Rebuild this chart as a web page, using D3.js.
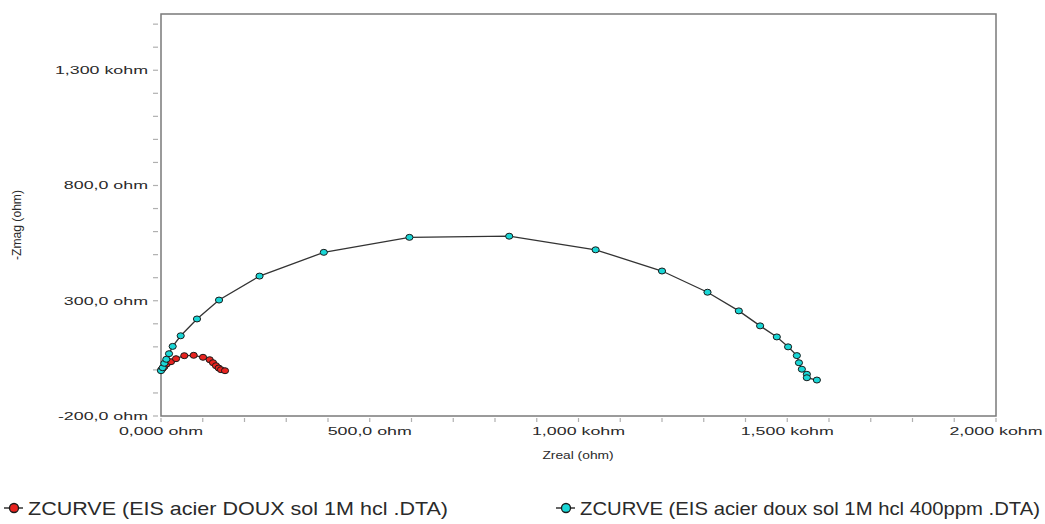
<!DOCTYPE html>
<html><head><meta charset="utf-8">
<script src="https://cdn.jsdelivr.net/npm/d3@7"></script>
<style>body{margin:0;background:#fff}svg{display:block}</style>
</head><body>
<svg id="c" width="1045" height="524"></svg>
<script>
// Data (ohm)
const redZreal = [0.5, 4, 8, 13.7, 24, 36, 55.8, 78.3, 100.6, 116.6, 124.6, 131.7, 138.2, 143.7, 153.3];
const redZimag = [0, 6, 14, 25.6, 35.6, 48.6, 61.6, 63.3, 54.7, 44.3, 31.2, 18.2, 8.2, 0.9, -3.5];
const cyanZreal = [0, 4, 7.9, 12.7, 19.2, 28, 47.2, 86.2, 139, 236, 390, 595, 834, 1041, 1200, 1309, 1384, 1435, 1475, 1502, 1523, 1528, 1535, 1547, 1547, 1571];
const cyanZimag = [-3.5, 9.5, 28.6, 46, 70.3, 102, 148, 221, 303, 407, 510, 575, 580, 521, 429, 337, 256, 191, 143, 100, 62, 31, 3, -19, -34, -44];
const xTickValues = [0, 500, 1000, 1500, 2000];
const xTickLabels = ["0,000 ohm", "500,0 ohm", "1,000 kohm", "1,500 kohm", "2,000 kohm"];
const yTickValues = [-200, 300, 800, 1300];
const yTickLabels = ["-200,0 ohm", "300,0 ohm", "800,0 ohm", "1,300 kohm"];
const seriesNames = ["ZCURVE (EIS acier DOUX sol 1M hcl .DTA)", "ZCURVE (EIS acier doux sol 1M hcl 400ppm .DTA)"];
const seriesColors = ["#e8231f", "#19d6d6"];

const svg = d3.select("#c");
const L = 161, R = 996, T = 14, B = 416;
const x = d3.scaleLinear().domain([0, 2000]).range([L, R]);
const y = d3.scaleLinear().domain([-200, 1544]).range([B, T]);

// minor ticks
const xMinor = d3.range(0, 2001, 100);
const yMinor = d3.range(-200, 1544, 100);
svg.append("g").selectAll("line").data(xMinor).join("line")
  .attr("x1", d => x(d)).attr("x2", d => x(d)).attr("y1", B + 2).attr("y2", B + 6)
  .attr("stroke", "#b0b0b0").attr("stroke-width", 1.2);
svg.append("g").selectAll("line").data(yMinor).join("line")
  .attr("y1", d => y(d)).attr("y2", d => y(d)).attr("x1", L - 8).attr("x2", L - 3)
  .attr("stroke", "#b0b0b0").attr("stroke-width", 1.2);

// frame
svg.append("rect").attr("x", L).attr("y", T).attr("width", R - L).attr("height", B - T)
  .attr("fill", "none").attr("stroke", "#7a7a7a").attr("stroke-width", 1.5);

// tick labels
const sx = 1.55;
svg.append("g").selectAll("text").data(xTickValues).join("text")
  .attr("transform", d => `translate(${x(d)},${B + 19}) scale(${sx},1)`)
  .attr("text-anchor", "middle")
  .attr("font-family", "Liberation Sans, Arial, sans-serif").attr("font-size", 11.5)
  .attr("fill", "#2a2a2a")
  .text((d, i) => xTickLabels[i]);
svg.append("g").selectAll("text").data(yTickValues).join("text")
  .attr("transform", d => `translate(148,${y(d) + 4}) scale(${sx},1)`)
  .attr("text-anchor", "end")
  .attr("font-family", "Liberation Sans, Arial, sans-serif").attr("font-size", 11.5)
  .attr("fill", "#2a2a2a")
  .text((d, i) => yTickLabels[i]);

// axis titles
svg.append("text").attr("x", 578).attr("y", 459).attr("text-anchor", "middle")
  .attr("font-family", "Liberation Sans, Arial, sans-serif").attr("font-size", 11.5)
  .attr("fill", "#2a2a2a").attr("transform", "translate(578,0) scale(1.2,1) translate(-578,0)")
  .text("Zreal (ohm)");
svg.append("text").attr("transform", "translate(21,225) rotate(-90)").attr("text-anchor", "middle")
  .attr("font-family", "Liberation Sans, Arial, sans-serif").attr("font-size", 13)
  .attr("fill", "#2a2a2a").attr("textLength", 70).attr("lengthAdjust", "spacingAndGlyphs")
  .text("-Zmag (ohm)");

// series
const series = [
  redZreal.map((v, i) => [v, redZimag[i]]),
  cyanZreal.map((v, i) => [v, cyanZimag[i]])
];
const line = d3.line().x(d => x(d[0])).y(d => y(d[1]));
series.forEach((pts, si) => {
  const g = svg.append("g");
  g.append("path").attr("d", line(pts)).attr("fill", "none")
    .attr("stroke", "#333").attr("stroke-width", 1.3);
  g.selectAll("ellipse").data(pts).join("ellipse")
    .attr("cx", d => x(d[0])).attr("cy", d => y(d[1])).attr("rx", 3.6).attr("ry", 3)
    .attr("fill", seriesColors[si]).attr("stroke", "#1a1a1a").attr("stroke-width", 1);
});

// legend
const legX = [13, 565], legW = [420, 460];
seriesNames.forEach((name, i) => {
  const g = svg.append("g");
  g.append("line").attr("x1", legX[i] - 9).attr("x2", legX[i] + 10).attr("y1", 508).attr("y2", 508)
    .attr("stroke", "#333").attr("stroke-width", 1.5);
  g.append("circle").attr("cx", legX[i] + 1).attr("cy", 508).attr("r", 4.5)
    .attr("fill", seriesColors[i]).attr("stroke", "#1a1a1a").attr("stroke-width", 1.3);
  g.append("text").attr("x", legX[i] + 15).attr("y", 515)
    .attr("font-family", "Liberation Sans, Arial, sans-serif").attr("font-size", 19)
    .attr("fill", "#2a2a2a").attr("textLength", legW[i]).attr("lengthAdjust", "spacingAndGlyphs")
    .text(name);
});
</script>
</body></html>
